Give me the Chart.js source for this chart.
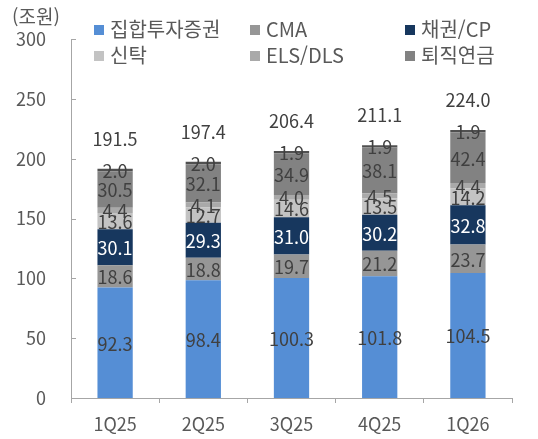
<!DOCTYPE html>
<html lang="ko">
<head>
<meta charset="utf-8">
<script src="https://cdn.jsdelivr.net/npm/chart.js@4.4.1/dist/chart.umd.min.js"></script>
<style>
  html, body { margin: 0; padding: 0; background: #fff; }
  #wrap { position: relative; width: 538px; height: 439px; font-family: "Noto Sans CJK KR", "Noto Sans", sans-serif; }
  #unit { position: absolute; left: 12px; top: 2px; font-size: 19px; color: #595959; }
  .leg { position: absolute; font-size: 20px; color: #595959; white-space: nowrap; line-height: 24px; }
  .leg span { display: inline-block; width: 10px; height: 10px; margin-right: 6px; vertical-align: 2px; }
</style>
</head>
<body>
<div id="wrap">
  <canvas id="chart" width="538" height="439"></canvas>
  <div id="unit">(조원)</div>
</div>
<script>
const quarters = ['1Q25', '2Q25', '3Q25', '4Q25', '1Q26'];
const seriesNames = ['집합투자증권', 'CMA', '채권/CP', '신탁', 'ELS/DLS', '퇴직연금', '기타'];

const fundValues = [92.3, 98.4, 100.3, 101.8, 104.5];
const cmaValues = [18.6, 18.8, 19.7, 21.2, 23.7];
const bondValues = [30.1, 29.3, 31.0, 30.2, 32.8];
const trustValues = [13.6, 12.7, 14.6, 13.5, 14.2];
const elsValues = [4.4, 4.1, 4.0, 4.5, 4.4];
const pensionValues = [30.5, 32.1, 34.9, 38.1, 42.4];
const otherValues = [2.0, 2.0, 1.9, 1.9, 1.9];
const totals = [191.5, 197.4, 206.4, 211.1, 224.0];
const yTicks = [0, 50, 100, 150, 200, 250, 300];

const seriesColors = ['#558ED5', '#969696', '#17375E', '#C3C3C3', '#A9A9A9', '#828282', '#505050'];
const labelColors = ['#404040', '#404040', '#ffffff', '#404040', '#404040', '#404040', '#404040'];
const allValues = [fundValues, cmaValues, bondValues, trustValues, elsValues, pensionValues, otherValues];

// legend (6 entries, 3 columns), 기타 not shown
const legendPos = [[94, 17], [250, 17], [405, 17], [94, 43], [250, 43], [405, 43]];
const wrap = document.getElementById('wrap');
for (let i = 0; i < 6; i++) {
  const d = document.createElement('div');
  d.className = 'leg';
  d.style.left = legendPos[i][0] + 'px';
  d.style.top = legendPos[i][1] + 'px';
  d.innerHTML = '<span style="background:' + seriesColors[i] + '"></span>' + seriesNames[i];
  wrap.appendChild(d);
}

const FONT = '"Noto Sans CJK KR", "Noto Sans", sans-serif';

const labelPlugin = {
  id: 'segLabels',
  afterDatasetsDraw(chart) {
    const ctx = chart.ctx;
    ctx.save();
    ctx.font = '18px ' + FONT;
    ctx.textAlign = 'center';
    ctx.textBaseline = 'middle';
    chart.data.datasets.forEach((ds, di) => {
      const meta = chart.getDatasetMeta(di);
      meta.data.forEach((bar, i) => {
        const p = bar.getProps(['x', 'y', 'base'], true);
        ctx.fillStyle = labelColors[di];
        ctx.fillText(ds.data[i].toFixed(1), p.x, (p.y + p.base) / 2 + 1);
      });
    });
    const top = chart.getDatasetMeta(chart.data.datasets.length - 1);
    top.data.forEach((bar, i) => {
      const p = bar.getProps(['x', 'y'], true);
      ctx.fillStyle = '#404040';
      ctx.fillText(totals[i].toFixed(1), p.x, p.y - 30);
    });
    // inward ticks on y axis
    const ys = chart.scales.y;
    ctx.strokeStyle = '#A6A6A6';
    ctx.lineWidth = 1;
    yTicks.forEach(v => {
      const y = Math.round(ys.getPixelForValue(v)) + 0.5;
      ctx.beginPath();
      ctx.moveTo(chart.chartArea.left, y);
      ctx.lineTo(chart.chartArea.left + 5, y);
      ctx.stroke();
    });
    ctx.restore();
  }
};

new Chart(document.getElementById('chart'), {
  type: 'bar',
  data: {
    labels: quarters,
    datasets: allValues.map((vals, i) => ({
      label: seriesNames[i],
      data: vals,
      backgroundColor: seriesColors[i],
      barPercentage: 0.4,
      categoryPercentage: 1.0,
    })),
  },
  options: {
    responsive: false,
    animation: false,
    events: [],
    layout: { padding: { top: 39, right: 26, left: 0, bottom: 0 } },
    plugins: {
      legend: { display: false },
      tooltip: { enabled: false },
    },
    scales: {
      x: {
        stacked: true,
        grid: { drawOnChartArea: false, drawTicks: true, tickLength: 5, color: '#A6A6A6' },
        border: { display: true, color: '#A6A6A6', width: 1 },
        ticks: { color: '#595959', font: { family: FONT, size: 18 }, padding: 10, maxRotation: 0 },
        afterFit(scale) { scale.height = 41; },
      },
      y: {
        stacked: true,
        min: 0,
        max: 300,
        grid: { display: false, drawTicks: false },
        border: { display: true, color: '#A6A6A6', width: 1 },
        ticks: { stepSize: 50, color: '#595959', font: { family: FONT, size: 18 }, padding: 25 },
        afterFit(scale) { scale.width = 71; },
      },
    },
  },
  plugins: [labelPlugin],
});
</script>
</body>
</html>
